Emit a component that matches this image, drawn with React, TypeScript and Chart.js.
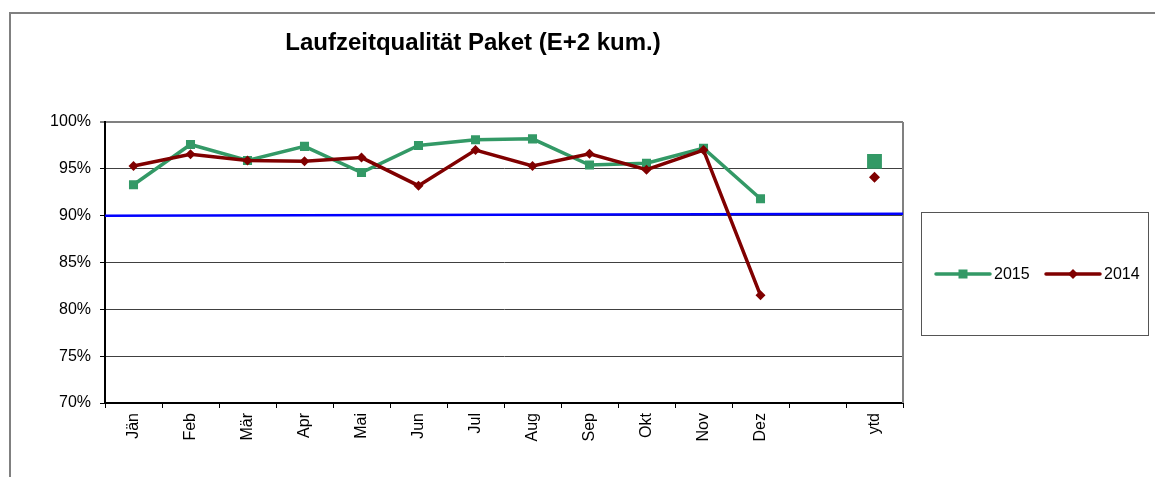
import React, { useEffect, useRef } from 'react';
import { Chart, registerables } from 'chart.js';

Chart.register(...registerables);

const TITLE = 'Laufzeitqualität Paket (E+2 kum.)';
const categories = ['Jän', 'Feb', 'Mär', 'Apr', 'Mai', 'Jun', 'Jul', 'Aug', 'Sep', 'Okt', 'Nov', 'Dez', '', 'ytd'];
const series2015 = [93.3, 97.6, 95.9, 97.4, 94.6, 97.5, 98.1, 98.2, 95.4, 95.6, 97.2, 91.8, null, 95.8];
const series2014 = [95.3, 96.55, 95.9, 95.8, 96.2, 93.2, 97.0, 95.3, 96.6, 94.9, 97.0, 81.5, null, 94.1];
const targetX = [0, 1];
const targetY = [90.0, 90.2];
const yMin = 70;
const yMax = 100;
const yStep = 5;

const GREEN = '#339966';
const RED = '#800000';
const BLUE = '#0000FF';
const FONT = '"Liberation Sans", Arial, sans-serif';

const framePlugin = {
  id: 'framePlugin',
  beforeDatasetsDraw(chart: any) {
    const { ctx, chartArea } = chart;
    ctx.save();
    ctx.strokeStyle = '#808080';
    ctx.lineWidth = 2;
    ctx.beginPath();
    ctx.moveTo(chartArea.right, chartArea.top);
    ctx.lineTo(chartArea.right, chartArea.bottom);
    ctx.stroke();
    ctx.restore();
  },
  afterDraw(chart: any) {
    const { ctx } = chart;
    ctx.save();
    // outer chart frame
    ctx.strokeStyle = '#808080';
    ctx.lineWidth = 2;
    ctx.strokeRect(10, 13, 1200, 500);
    // title
    ctx.fillStyle = '#000';
    ctx.font = `bold 24px ${FONT}`;
    ctx.textAlign = 'center';
    ctx.textBaseline = 'alphabetic';
    ctx.fillText(TITLE, 473, 49.5);
    // legend box
    ctx.strokeStyle = '#555';
    ctx.lineWidth = 1;
    ctx.strokeRect(921.5, 212.5, 227, 123);
    const ly = 274;
    const items = [
      { ds: chart.data.datasets[0], x0: 936, x1: 990, tx: 994 },
      { ds: chart.data.datasets[1], x0: 1046, x1: 1100, tx: 1104 },
    ];
    items.forEach((it, i) => {
      ctx.strokeStyle = it.ds.borderColor;
      ctx.lineWidth = 3.5;
      ctx.lineCap = 'round';
      ctx.beginPath();
      ctx.moveTo(it.x0, ly);
      ctx.lineTo(it.x1, ly);
      ctx.stroke();
      const cx = (it.x0 + it.x1) / 2;
      ctx.fillStyle = it.ds.borderColor;
      if (i === 0) {
        ctx.fillRect(cx - 4.5, ly - 4.5, 9, 9);
      } else {
        ctx.beginPath();
        ctx.moveTo(cx, ly - 5);
        ctx.lineTo(cx + 5, ly);
        ctx.lineTo(cx, ly + 5);
        ctx.lineTo(cx - 5, ly);
        ctx.closePath();
        ctx.fill();
      }
      ctx.fillStyle = '#000';
      ctx.font = `16px ${FONT}`;
      ctx.textAlign = 'left';
      ctx.textBaseline = 'middle';
      ctx.fillText(it.ds.label, it.tx, ly + 1);
    });
    ctx.restore();
  },
};

export default function App() {
  const canvasRef = useRef<HTMLCanvasElement | null>(null);

  useEffect(() => {
    if (!canvasRef.current) return;
    const greenRadius = series2015.map((v, i) => (i === series2015.length - 1 ? 10.5 : 6.4));
    const redRadius = series2014.map((v, i) => (i === series2014.length - 1 ? 5.5 : 5));
    const chart = new Chart(canvasRef.current, {
      type: 'line',
      data: {
        labels: categories,
        datasets: [
          {
            label: '2015',
            data: series2015,
            borderColor: GREEN,
            backgroundColor: GREEN,
            borderWidth: 3.5,
            pointStyle: 'rect',
            pointRadius: greenRadius,
            pointBorderWidth: 0,
            pointBackgroundColor: GREEN,
            tension: 0,
            spanGaps: false,
            order: 1,
          },
          {
            label: '2014',
            data: series2014,
            borderColor: RED,
            backgroundColor: RED,
            borderWidth: 3.5,
            pointStyle: 'rectRot',
            pointRadius: redRadius,
            pointBorderWidth: 0,
            pointBackgroundColor: RED,
            tension: 0,
            spanGaps: false,
            order: 0,
          },
          {
            label: 'Ziel',
            data: targetX.map((x, i) => ({ x, y: targetY[i] })),
            xAxisID: 'x2',
            borderColor: BLUE,
            borderWidth: 2.5,
            pointRadius: 0,
            tension: 0,
            order: 2,
          } as any,
        ],
      },
      options: {
        animation: false,
        responsive: false,
        devicePixelRatio: 1,
        layout: { padding: { left: 0, top: 122, right: 252, bottom: 0 } },
        plugins: {
          legend: { display: false },
          title: { display: false },
          tooltip: { enabled: false },
        },
        scales: {
          x: {
            type: 'category',
            offset: true,
            grid: {
              offset: true,
              drawOnChartArea: false,
              drawTicks: true,
              tickLength: 5,
              tickColor: '#000',
              tickWidth: 1,
            },
            border: { color: '#000', width: 2 },
            ticks: {
              autoSkip: false,
              minRotation: 90,
              maxRotation: 90,
              padding: 5,
              color: '#000',
              font: { family: FONT, size: 16 },
            },
            afterFit: (axis: any) => {
              axis.height = 74;
            },
          },
          x2: {
            type: 'linear',
            display: false,
            min: 0,
            max: 1,
          },
          y: {
            min: yMin,
            max: yMax,
            ticks: {
              stepSize: yStep,
              padding: 9,
              color: '#000',
              font: { family: FONT, size: 16 },
              callback: (v: any) => `${v}%`,
            },
            grid: {
              color: (c: any) => (c.tick && c.tick.value === yMax ? '#808080' : '#404040'),
              lineWidth: (c: any) => (c.tick && c.tick.value === yMax ? 2 : 1),
              tickColor: '#000',
              tickLength: 5,
              tickWidth: 1,
            },
            border: { color: '#000', width: 2 },
            afterFit: (axis: any) => {
              axis.width = 105;
            },
          },
        },
      } as any,
      plugins: [framePlugin],
    });
    return () => chart.destroy();
  }, []);

  return (
    <div style={{ position: 'absolute', left: 0, top: 0, width: 1155, height: 477, background: '#fff' }}>
      <canvas ref={canvasRef} width={1155} height={477} style={{ display: 'block', width: 1155, height: 477 }} />
    </div>
  );
}
